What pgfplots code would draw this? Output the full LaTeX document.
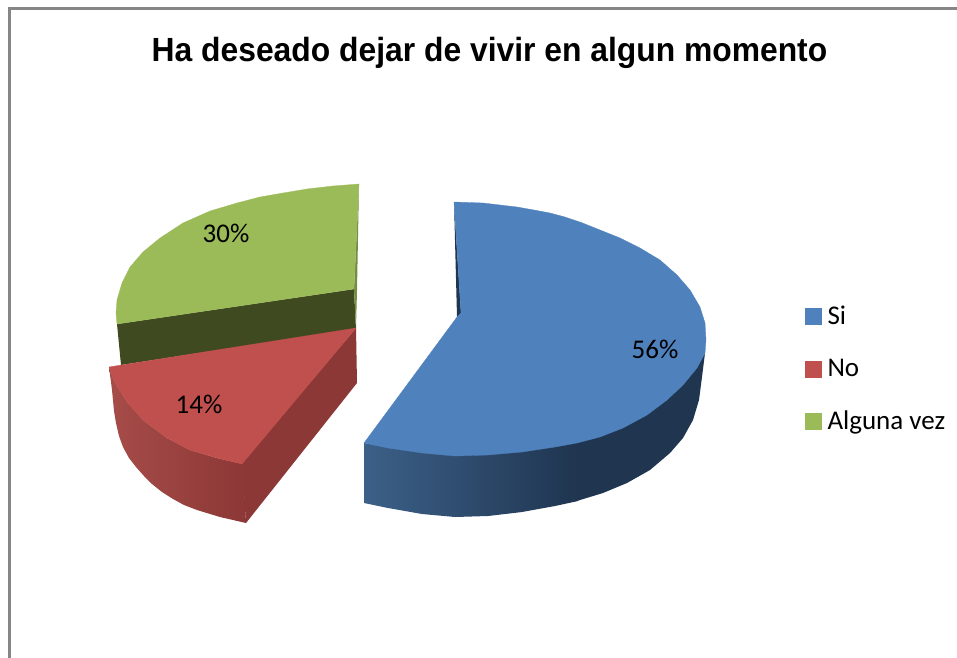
\documentclass[border=0pt]{standalone}
\usepackage{pgfplots}
\pgfplotsset{compat=1.18}
\usepackage{fontspec}
\setmainfont{Carlito}
\newfontfamily\titlefont{Liberation Sans}
\definecolor{cblue}{HTML}{4F81BD}
\definecolor{cred}{HTML}{C0504D}
\definecolor{cgreen}{HTML}{9BBB59}
\definecolor{cdkgreen}{HTML}{404A20}
\definecolor{cdkred}{HTML}{8C3836}
\definecolor{cmidred}{HTML}{A64C49}
\definecolor{cdkblue}{HTML}{1F3550}
\definecolor{cmidblue}{HTML}{3C6088}
\definecolor{cframe}{HTML}{868686}
\begin{document}
\begin{tikzpicture}
\useasboundingbox (0,0) rectangle (957pt,657pt);
\begin{axis}[
  at={(0,0)}, anchor=south west,
  scale only axis, width=957pt, height=657pt,
  xmin=0, xmax=957, ymin=0, ymax=657, y dir=reverse,
  axis lines=none, clip=true,
  legend style={draw=none, fill=none, at={(axis cs:805,306)}, anchor=north west,
    font=\fontsize{27}{27}\selectfont, row sep=33pt, column sep=6pt,
    inner sep=0pt, nodes={inner sep=0pt, anchor=west}},
  legend cell align=left,
  legend image code/.code={\fill[#1] (0pt,-8pt) rectangle (16pt,8pt);},
  every axis plot/.append style={draw=none},
]
% chart frame
\addplot[forget plot, draw=cframe, line width=2.6pt, no marks] coordinates {(9.3,660) (9.3,8.7) (960,8.7)};
% green slice: inner wall and sliver
\addplot[forget plot, fill=cdkgreen] coordinates {(117,324) (354,289) (356,329) (121,365)} -- cycle;
\addplot[forget plot, fill=cgreen!75!black] coordinates {(359,184) (357,290) (356,328) (354,289)} -- cycle;
% red slice: outer wall and cut wall
\addplot[forget plot, left color=cmidred, right color=cdkred, shading angle=90] coordinates {
 (109,367) (115,383) (127,402) (143,420) (167,438) (190,450) (217,458) (243,464)
 (246,523) (220,517) (197,510) (184,505) (173,499) (162,492) (152,484) (144,476) (136,467) (129,458) (123,447) (119,436) (116,423) (114,411) (112,390)} -- cycle;
\addplot[forget plot, fill=cdkred] coordinates {(356,328) (357,383) (246,523) (242,463)} -- cycle;
% blue slice: walls
\addplot[forget plot, fill=cdkblue] coordinates {(454,202) (457,317) (461,313)} -- cycle;
\addplot[forget plot, left color=cmidblue, right color=cdkblue, shading angle=90] coordinates {
 (364,443) (388,447) (422,452) (455,455) (488,454) (522,451) (555,446) (578,441) (578,501) (555,506) (522,512) (488,516) (455,517) (422,514) (388,508) (364,503)} -- cycle;
\addplot[forget plot, fill=cdkblue] coordinates {
 (577,440) (600,435) (623,426) (647,413) (667,398) (683,383) (697,366) (705,353)
 (702,377) (699,400) (693,420) (683,438) (670,453) (650,470) (627,483) (603,493) (580,500) (577,501)} -- cycle;
% top faces, one per legend entry
\addplot[fill=cblue, draw=cblue, line width=0.3pt] coordinates {
 (454,202) (483,203) (500,205) (517,207) (534,210) (550,213) (565,217) (580,222) (600,230) (620,238) (640,248) (660,260) (677,275) (690,290) (700,307) (705,323) (706,340) (705,353) (697,368) (683,385) (667,400) (647,415) (623,428) (600,437) (577,443) (555,447) (522,452) (488,455) (455,456) (422,453) (388,448) (364,443) (457,317) (461,313)} -- cycle;
\addlegendentry{Si}
\addplot[fill=cred, draw=cred, line width=0.3pt] coordinates {
 (109,367) (356,328) (242,464) (217,458) (190,450) (167,438) (143,420) (127,402) (115,383)} -- cycle;
\addlegendentry{No}
\addplot[fill=cgreen, draw=cgreen, line width=0.3pt] coordinates {
 (359,184) (333,186) (307,189) (283,193) (260,197) (237,203) (210,211) (183,223) (160,238) (143,252) (130,267) (122,283) (117,300) (116,313) (117,324) (354,289)} -- cycle;
\addlegendentry{Alguna vez}
% texts
\node[font=\titlefont\bfseries\fontsize{33.5}{34}\selectfont, text=black, inner sep=0pt, anchor=center] at (axis cs:489.5,53) {\scalebox{0.95}[1]{Ha deseado dejar de vivir en algun momento}};
\node[font=\fontsize{27}{27}\selectfont, inner sep=0pt] at (axis cs:226,233) {30\%};
\node[font=\fontsize{27}{27}\selectfont, inner sep=0pt] at (axis cs:199,404) {14\%};
\node[font=\fontsize{27}{27}\selectfont, inner sep=0pt] at (axis cs:655,349) {56\%};
\end{axis}
\end{tikzpicture}
\end{document}
